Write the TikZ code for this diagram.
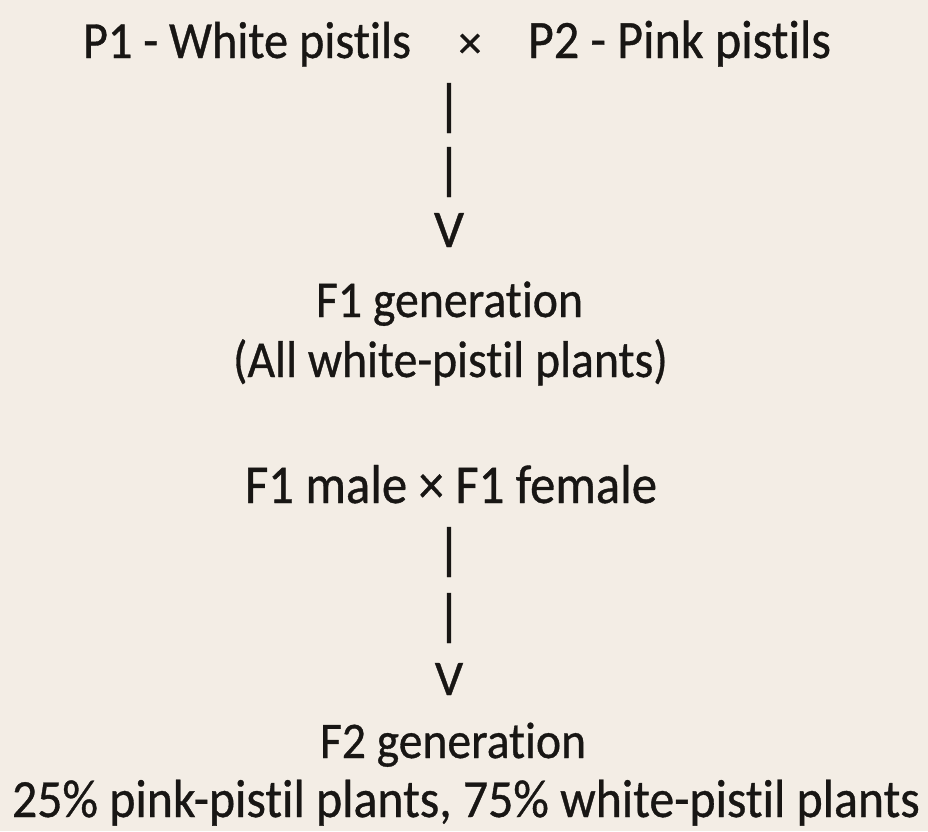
\documentclass[tikz,border=0pt]{standalone}
\usepackage{fontspec}
\setmainfont{Carlito}[FakeBold=0.7, RawFeature={-liga;-dlig;-clig}]
\usepackage{graphicx}
\definecolor{paper}{RGB}{243,237,229}
\definecolor{ink}{RGB}{24,22,20}
\newcommand{\fitline}[2]{\scalebox{1}[1.08]{\resizebox{#1}{!}{#2}}}
\begin{document}
\begin{tikzpicture}[x=1pt,y=-1pt,
  txt/.style={inner sep=0pt, outer sep=0pt, text=ink, anchor=base west, font=\fontsize{40}{48}\selectfont},
  ctxt/.style={txt, anchor=base},
  barglyph/.style={txt, anchor=center}]
\fill[paper] (0,0) rectangle (928,831);
\useasboundingbox (0,0) rectangle (928,831);
% line 1
\node[txt]  (p1)    at (83,58)  {\fitline{328pt}{P1 - White pistils}};
\node[ctxt] (cross) at (470,58) {\resizebox{23pt}{!}{×}};
\node[txt]  (p2)    at (528,58) {\fitline{303pt}{P2 - Pink pistils}};
% first arrow
\node[barglyph] (bar1) at (449,108) {\resizebox*{!}{50pt}{|}};
\node[barglyph] (bar2) at (449,172) {\resizebox*{!}{50pt}{|}};
\node[ctxt]     (v1)   at (449,247) {\resizebox{!}{34pt}{V}};
% F1
\node[txt] (f1)    at (316,317) {\fitline{267pt}{F1 generation}};
\node[txt] (f1all) at (233,377) {\fitline{435pt}{(All white-pistil plants)}};
% F1 cross
\node[txt] (f1x) at (245,503) {\fitline{412pt}{F1 male × F1 female}};
% second arrow
\node[barglyph] (bar3) at (449,552) {\resizebox*{!}{50pt}{|}};
\node[barglyph] (bar4) at (449,618) {\resizebox*{!}{50pt}{|}};
\node[ctxt]     (v2)   at (449,695) {\resizebox{!}{32pt}{V}};
% F2
\node[txt] (f2)    at (320,758) {\fitline{266pt}{F2 generation}};
\node[txt] (ratio) at (12,817)  {\fitline{908pt}{25\% pink-pistil plants, 75\% white-pistil plants}};
\end{tikzpicture}
\end{document}
